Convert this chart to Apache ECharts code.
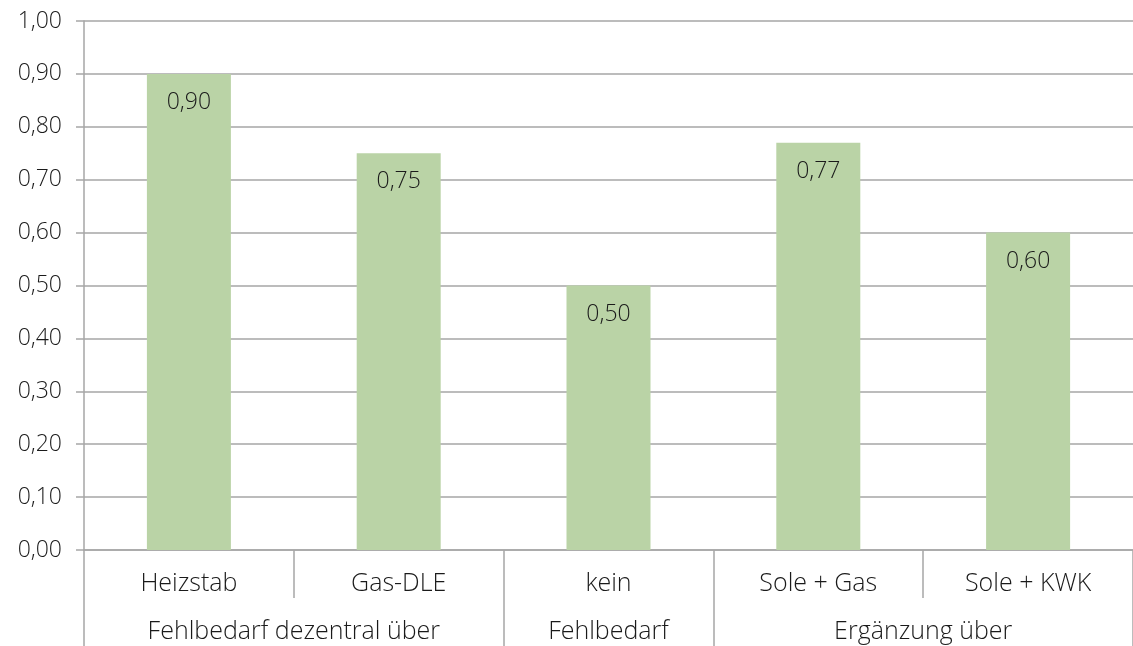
<!DOCTYPE html>
<html>
<head>
<meta charset="utf-8">
<script src="https://cdn.jsdelivr.net/npm/echarts@6/dist/echarts.min.js"></script>
<style>
  html, body { margin: 0; padding: 0; background: #fff; }
  #chart { width: 1133px; height: 646px; }
</style>
</head>
<body>
<div id="chart"></div>
<script>
// Scenario labels (lower axis row) and their values
const categories = ['Heizstab', 'Gas-DLE', 'kein', 'Sole + Gas', 'Sole + KWK'];
const values = [0.90, 0.75, 0.50, 0.77, 0.60];

// Group labels (second axis row); each group spans whole categories
const groupLabels = ['Fehlbedarf dezentral über', 'Fehlbedarf', 'Ergänzung über'];
const groupSpans = [2, 1, 2];

// Build an evenly spaced point axis at half-category resolution so group
// labels sit in the middle of their span and ticks sit on group borders.
const halfSlots = categories.length * 2;
const groupAxisData = new Array(halfSlots + 1).fill('');
const groupTickIdx = new Set([0]);
let pos = 0;
groupSpans.forEach((span, i) => {
  groupAxisData[pos + span] = groupLabels[i];
  pos += span * 2;
  groupTickIdx.add(pos);
});

const FONT = '"Open Sans", "Liberation Sans", sans-serif';
const WEIGHT = 300;
const NUM_SIZE = 23;   // numbers on the value axis and on the bars
const CAT_SIZE = 25;   // category and group names
const TEXT = '#1a1a1a';
const LINE = '#a6a6a6';
const fmt = v => v.toFixed(2).replace('.', ',');

const chart = echarts.init(document.getElementById('chart'), null, { renderer: 'canvas' });
chart.setOption({
  animation: false,
  textStyle: { fontFamily: FONT },
  grid: { left: 84, top: 21, width: 1056, height: 529, containLabel: false },
  xAxis: [
    {
      type: 'category',
      data: categories,
      position: 'bottom',
      axisLine: { show: true, lineStyle: { color: LINE, width: 1.5 } },
      axisTick: { show: true, length: 48, lineStyle: { color: LINE, width: 1.5 } },
      axisLabel: { color: TEXT, fontSize: CAT_SIZE, fontWeight: WEIGHT, fontFamily: FONT, margin: 21 }
    },
    {
      type: 'category',
      data: groupAxisData,
      position: 'bottom',
      offset: 48,
      boundaryGap: false,
      axisLine: { show: false },
      axisTick: {
        show: true, length: 48,
        interval: (i) => groupTickIdx.has(i),
        lineStyle: { color: LINE, width: 1.5 }
      },
      axisLabel: {
        color: TEXT, fontSize: CAT_SIZE, fontWeight: WEIGHT, fontFamily: FONT, margin: 21,
        interval: (i, v) => v !== ''
      }
    }
  ],
  yAxis: {
    type: 'value',
    min: 0, max: 1, interval: 0.1,
    axisLine: { show: true, lineStyle: { color: LINE, width: 1.5 } },
    axisTick: { show: true, length: 8, lineStyle: { color: LINE, width: 1.5 } },
    axisLabel: { color: TEXT, fontSize: NUM_SIZE, fontWeight: WEIGHT, fontFamily: FONT, margin: 22, formatter: fmt },
    splitLine: { show: true, lineStyle: { color: LINE, width: 1.5 } }
  },
  series: [{
    type: 'bar',
    xAxisIndex: 0,
    data: values,
    barWidth: 84,
    itemStyle: { color: '#bad3a6' },
    label: {
      show: true,
      position: 'insideTop',
      distance: 17,
      color: TEXT,
      fontSize: NUM_SIZE,
      fontWeight: WEIGHT,
      fontFamily: FONT,
      formatter: p => fmt(p.value)
    }
  }]
});
</script>
</body>
</html>
